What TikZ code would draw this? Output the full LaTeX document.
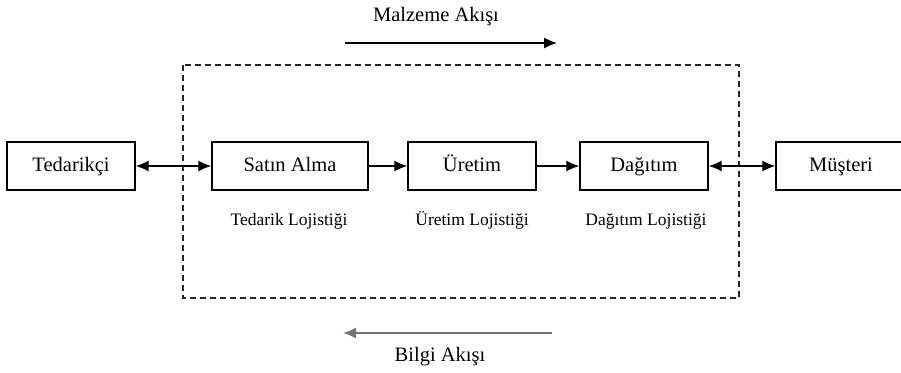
\documentclass[tikz,border=0pt]{standalone}
\usepackage{fontspec}
\setmainfont{Liberation Serif}
\usetikzlibrary{arrows.meta}
\begin{document}
\begin{tikzpicture}[x=1pt,y=-1pt,
  stage/.style={draw=black,line width=1.4pt,minimum height=48pt,inner sep=0pt,
    text height=14pt,text depth=4pt,font=\fontsize{20.5}{24}\selectfont},
  sublabel/.style={font=\fontsize{17.5}{20}\selectfont,inner sep=0pt,text height=12pt,text depth=4pt},
  flowlabel/.style={font=\fontsize{20.5}{24}\selectfont,inner sep=0pt,text height=14pt,text depth=4pt},
  tip/.tip={Latex[length=13pt,width=11pt]},
  link/.style={line width=1.3pt,-tip},
  twoway/.style={line width=1.3pt,tip-tip}]
  \useasboundingbox (0,0) rectangle (901,372);
  % logistics boundary
  \draw[line width=1.3pt,dash pattern=on 6pt off 4pt,color=black!85] (183,65) rectangle (739,298);
  % stages of the chain
  \node[stage,minimum width=128pt] (ted) at (71,166) {Tedarikçi};
  \node[stage,minimum width=156pt] (sat) at (290,166) {Satın Alma};
  \node[stage,minimum width=128pt] (ure) at (472,166) {Üretim};
  \node[stage,minimum width=128pt] (dag) at (644,166) {Dağıtım};
  \node[stage,minimum width=130pt] (mus) at (841,166) {Müşteri};
  % connections
  \draw[twoway] (ted) -- (sat);
  \draw[link] (sat) -- (ure);
  \draw[link] (ure) -- (dag);
  \draw[twoway] (dag) -- (mus);
  % logistics areas
  \node[sublabel] (tl) at (289,221) {Tedarik Lojistiği};
  \node[sublabel] (ul) at (472,221) {Üretim Lojistiği};
  \node[sublabel] (dl) at (646,221) {Dağıtım Lojistiği};
  % material flow
  \node[flowlabel] (mal) at (436,16) {Malzeme Akışı};
  \coordinate (m1) at (345,43);
  \coordinate (m2) at (557,43);
  \draw[link] (m1) -- (m2);
  % information flow
  \coordinate (b1) at (552,333);
  \coordinate (b2) at (343,333);
  \draw[link,color=black!55] (b1) -- (b2);
  \node[flowlabel] (bil) at (440,356) {Bilgi Akışı};
\end{tikzpicture}
\end{document}
